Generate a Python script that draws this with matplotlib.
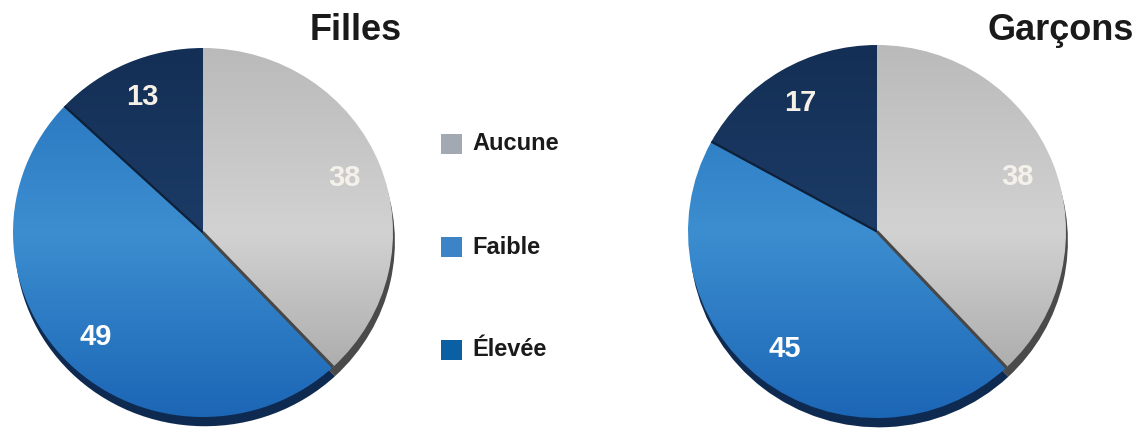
import numpy as np
import matplotlib.pyplot as plt
from matplotlib.colors import LinearSegmentedColormap
from matplotlib.patches import Rectangle

categories = ['Aucune', 'Faible', 'Élevée']
filles = [38, 49, 13]
garcons = [38, 45, 17]
titles = ['Filles', 'Garçons']

plt.rcParams['font.family'] = ['Liberation Sans', 'DejaVu Sans']

W, H = 1147, 428
fig = plt.figure(figsize=(W / 100, H / 100), dpi=100)

# vertical gradient stops (bottom, middle, top) for each slice
grad = [['#a0a0a0', '#d2d2d2', '#bababa'],
        ['#1c66b6', '#3c8ed0', '#2572bd'],
        ['#1d406d', '#1b3b66', '#142f55']]
side = ['#4a4a4a', '#0f2a50', '#0d2342']
legend_colors = ['#a3a9b3', '#3c84c6', '#0b5fa3']
label_colors = ['#f4f1ea', '#ffffff', '#f6f0e6']

M = 0.12  # margin around the unit pie inside each axes


def draw_pie(box, values, title, title_right):
    x0, y0, x1, y1 = box  # pixel bbox of the pie top surface (y from top)
    rx = (x1 - x0) / 2
    ry = (y1 - y0) / 2
    ax = fig.add_axes([(x0 - M * rx) / W, 1 - (y1 + M * ry) / H,
                       2 * rx * (1 + M) / W, 2 * ry * (1 + M) / H])

    # side of the 3d pie
    ax.pie(values, colors=side, startangle=90, counterclock=False,
           center=(0.01, -0.05), wedgeprops=dict(linewidth=0))

    wedges, _, autotexts = ax.pie(
        values, colors=['none'] * 3, startangle=90, counterclock=False,
        autopct=lambda p: f'{p:.0f}', pctdistance=0.8,
        wedgeprops=dict(linewidth=0))

    yy = np.linspace(0, 1, 256).reshape(-1, 1)
    for w, stops in zip(wedges, grad):
        cmap = LinearSegmentedColormap.from_list('g', stops)
        im = ax.imshow(yy, cmap=cmap, extent=(-1, 1, -1, 1), origin='lower',
                       aspect='auto', zorder=1.5, interpolation='bilinear')
        im.set_clip_path(w)

    # dark cut lines between slices
    cum = np.cumsum(values) / np.sum(values)
    for c, col, lw in [(cum[0], '#474747', 2.2), (cum[1], '#0e1f38', 1.6)]:
        a = np.deg2rad(90 - 360 * c)
        ax.plot([0, np.cos(a)], [0, np.sin(a)], color=col, lw=lw,
                zorder=2, solid_capstyle='butt')

    for t, col in zip(autotexts, label_colors):
        t.set_color(col)
        t.set_fontsize(21)
        t.set_fontweight('bold')
        t.set_zorder(3)

    ax.set_xlim(-1 - M, 1 + M)
    ax.set_ylim(-1 - M, 1 + M)
    ax.axis('off')

    fig.text(title_right / W, 1 - 31 / H, title, ha='right', va='center',
             fontsize=26, fontweight='bold', color='#1a1a1a')
    return ax


draw_pie((13, 48, 393, 417), filles, titles[0], 402)
draw_pie((688, 45, 1066, 418), garcons, titles[1], 1134)

# legend
lax = fig.add_axes([0, 0, 1, 1])
lax.set_xlim(0, W)
lax.set_ylim(H, 0)
lax.axis('off')
for i, (lab, col) in enumerate(zip(categories, legend_colors)):
    yc = 144 + 103 * i
    lax.add_patch(Rectangle((441, yc - 10), 21, 20, color=col, lw=0))
    lax.text(472, yc, lab, fontsize=17, fontweight='bold', va='center',
             ha='left', color='#1a1a1a')

fig.savefig('out.png', dpi=100)
